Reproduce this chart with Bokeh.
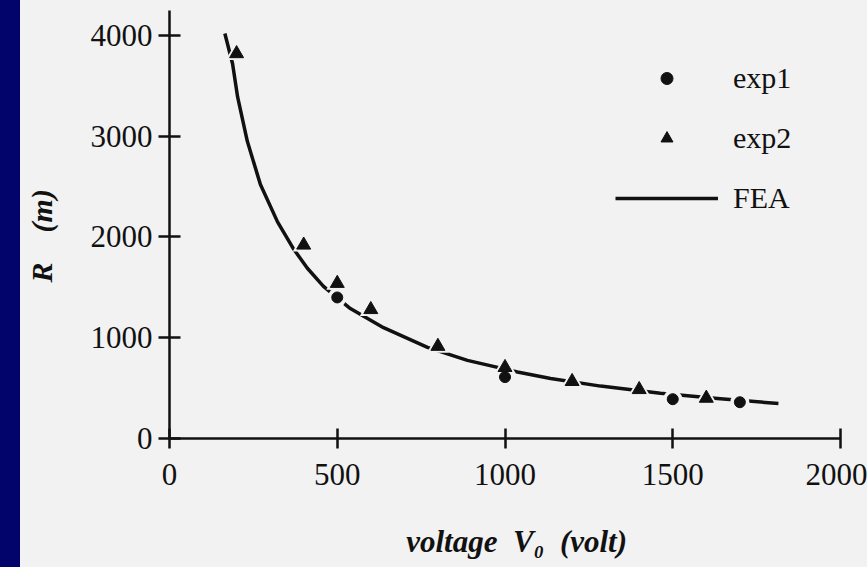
from bokeh.plotting import figure
from bokeh.models import Legend, LegendItem, ColumnDataSource, InlineStyleSheet
from bokeh.embed import file_html
from bokeh.resources import INLINE

# ---- data ----
fea_v = [165, 188, 203, 232, 271, 322, 370, 411, 459, 539, 638, 769, 888, 1037, 1136, 1285, 1463, 1633, 1815]
fea_r = [4020, 3720, 3390, 2950, 2520, 2150, 1880, 1690, 1510, 1290, 1100, 905, 775, 660, 595, 520, 450, 397, 347]

exp1_v = [500, 1000, 1500, 1700]
exp1_r = [1400, 610, 390, 360]

exp2_v = [200, 400, 500, 600, 800, 1000, 1200, 1400, 1600]
exp2_r = [3820, 1920, 1540, 1280, 915, 705, 566, 486, 400]

x_ticks = [0, 500, 1000, 1500, 2000]
y_ticks = [0, 1000, 2000, 3000, 4000]

x_label = "\u00a0\u00a0\u00a0voltage\u2002V\u2080\u2002(volt)"
y_label = "R\u2003(m)\u00a0\u00a0\u00a0"
series_names = ["exp1", "exp2", "FEA"]

# ---- styling ----
NAVY = "#03036c"
PAPER = "#f2f2f2"
INK = "#111111"
SERIF = "Liberation Serif"

src_fea = ColumnDataSource(dict(v=fea_v, r=fea_r))
src_e1 = ColumnDataSource(dict(v=exp1_v, r=exp1_r))
src_e2 = ColumnDataSource(dict(v=exp2_v, r=exp2_r))

p = figure(width=867, height=567, x_range=(0, 2000), y_range=(0, 4248),
           output_backend="svg", toolbar_location=None)
p.min_border = 0
p.min_border_left = 169
p.min_border_right = 27
p.min_border_top = 10
p.min_border_bottom = 129
p.background_fill_color = PAPER
p.border_fill_color = None          # host element paints the paper + navy slide edge
p.outline_line_color = None
p.grid.visible = False

for ax in (p.xaxis[0], p.yaxis[0]):
    ax.axis_line_width = 2.5
    ax.axis_line_color = INK
    ax.major_tick_line_width = 2.5
    ax.major_tick_line_color = INK
    ax.minor_tick_line_color = None
    ax.major_label_text_font = SERIF
    ax.major_label_text_font_size = "31px"
    ax.major_label_text_color = INK
    ax.axis_label_text_font = SERIF
    ax.axis_label_text_font_style = "bold italic"
    ax.axis_label_text_color = INK

p.xaxis.ticker = x_ticks
p.yaxis.ticker = y_ticks
p.xaxis.major_tick_in = 10
p.xaxis.major_tick_out = 10
p.yaxis.major_tick_in = 11
p.yaxis.major_tick_out = 11
p.xaxis.major_label_standoff = 15
p.yaxis.major_label_standoff = 6
p.xaxis.axis_label = x_label
p.yaxis.axis_label = y_label
p.xaxis.axis_label_text_font_size = "31px"
p.yaxis.axis_label_text_font_size = "30px"
p.xaxis.axis_label_standoff = 36
p.yaxis.axis_label_standoff = 30

fea = p.line("v", "r", source=src_fea, line_width=3.5, line_color=INK, line_join="round")
# paper-coloured halos that break the curve around each marker
p.scatter("v", "r", source=src_e2, marker="triangle", size=22, fill_color=PAPER, line_color=None)
p.scatter("v", "r", source=src_e1, marker="circle", size=19, fill_color=PAPER, line_color=None)
e2 = p.scatter("v", "r", source=src_e2, marker="triangle", size=14, fill_color=INK, line_color=INK)
e1 = p.scatter("v", "r", source=src_e1, marker="circle", size=11, fill_color=INK, line_color=INK)

legend = Legend(items=[LegendItem(label=series_names[0], renderers=[e1]),
                       LegendItem(label=series_names[1], renderers=[e2]),
                       LegendItem(label=series_names[2], renderers=[fea])],
                location=(446, 223), orientation="vertical")
legend.glyph_width = 103
legend.glyph_height = 30
legend.label_height = 30
legend.label_standoff = 15
legend.spacing = 26
legend.padding = 0
legend.margin = 0
legend.border_line_color = None
legend.background_fill_alpha = 0
legend.label_text_font = SERIF
legend.label_text_font_size = "30px"
legend.label_text_color = INK
p.add_layout(legend, "center")

# paper background with the navy slide edge on the left
p.stylesheets = [InlineStyleSheet(css=(
    ":host { background-color: %s; box-shadow: inset 20px 0 0 0 %s; overflow: hidden; }"
    % (PAPER, NAVY)))]

open("out.html", "w").write(file_html(p, INLINE))
